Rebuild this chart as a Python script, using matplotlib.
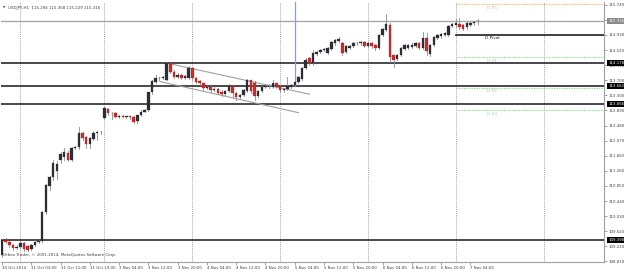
import matplotlib
matplotlib.use('Agg')
import matplotlib.pyplot as plt
import matplotlib.transforms as mtransforms

plt.rcParams['font.family'] = ['DejaVu Sans']

# USDJPY H1 candles, 30 Oct 2014 19:00 .. 7 Nov 2014 06:00 (index = bar number)
opens = [108.98, 109.40, 109.33, 109.25, 109.17, 109.20, 109.31, 109.22, 109.14, 109.26,
         109.33, 109.37, 110.15, 110.85, 111.10, 111.25, 111.55, 111.62, 111.74, 111.56,
         111.87, 111.89, 112.28, 112.17, 111.98, 112.12, 112.29, 112.30, 112.69, 112.92,
         112.80, 112.82, 112.72, 112.73, 112.72, 112.73, 112.70, 112.60, 112.76, 112.86,
         112.90, 113.38, 113.66, 113.76, 113.78, 113.71, 114.16, 113.94, 113.80, 113.85,
         113.78, 113.76, 114.04, 113.78, 113.68, 113.62, 113.49, 113.53, 113.44, 113.48,
         113.40, 113.33, 113.42, 113.56, 113.36, 113.26, 113.31, 113.42, 113.70, 113.62,
         113.29, 113.42, 113.52, 113.54, 113.53, 113.62, 113.54, 113.43, 113.47, 113.53,
         113.57, 113.66, 113.75, 114.03, 114.30, 114.16, 114.42, 114.46, 114.52, 114.44,
         114.55, 114.70, 114.76, 114.72, 114.48, 114.58, 114.63, 114.70, 114.70, 114.74,
         114.63, 114.72, 114.66, 114.57, 114.93, 115.06, 115.20, 114.38, 114.27, 114.39,
         114.55, 114.58, 114.60, 114.63, 114.70, 114.57, 114.84, 114.42, 114.66, 114.84,
         114.89, 114.93, 114.94, 115.17, 115.19, 115.23, 115.19, 115.14, 115.20, 115.24,
         115.294]
highs = [109.42, 109.45, 109.36, 109.27, 109.24, 109.36, 109.34, 109.25, 109.28, 109.40,
         109.40, 110.18, 110.90, 111.13, 111.55, 111.52, 111.78, 111.88, 111.80, 111.91,
         111.92, 112.45, 112.32, 112.20, 112.17, 112.33, 112.34, 112.33, 112.98, 112.96,
         112.84, 112.85, 112.76, 112.76, 112.75, 112.75, 112.74, 112.78, 112.89, 112.92,
         113.40, 113.72, 113.85, 113.80, 113.83, 114.21, 114.21, 113.97, 113.90, 113.88,
         113.86, 114.08, 114.07, 113.80, 113.71, 113.64, 113.56, 113.56, 113.52, 113.50,
         113.43, 113.45, 113.60, 113.59, 113.38, 113.34, 113.47, 113.73, 113.72, 113.68,
         113.45, 113.56, 113.57, 113.60, 113.70, 113.64, 113.57, 113.50, 113.79, 113.61,
         113.69, 113.82, 114.06, 114.30, 114.33, 114.52, 114.51, 114.56, 114.57, 114.60,
         114.78, 114.83, 114.87, 114.75, 114.66, 114.66, 114.73, 114.75, 114.77, 114.77,
         114.74, 114.75, 114.68, 114.96, 115.11, 115.50, 115.25, 114.40, 114.42, 114.60,
         114.68, 114.69, 114.70, 114.73, 114.74, 115.02, 114.98, 114.68, 114.90, 114.96,
         114.99, 115.01, 115.20, 115.26, 115.35, 115.38, 115.22, 115.27, 115.29, 115.32,
         115.358]
lows = [108.92, 109.30, 109.21, 109.12, 109.14, 109.17, 109.10, 109.10, 109.12, 109.22,
        109.30, 109.34, 110.10, 110.74, 111.01, 111.05, 111.48, 111.55, 111.52, 111.52,
        111.84, 111.86, 112.10, 111.88, 111.88, 112.08, 112.10, 112.26, 112.66, 112.78,
        112.66, 112.70, 112.69, 112.70, 112.69, 112.66, 112.56, 112.55, 112.73, 112.84,
        112.87, 113.33, 113.62, 113.72, 113.74, 113.70, 113.90, 113.77, 113.76, 113.74,
        113.75, 113.73, 113.72, 113.62, 113.58, 113.45, 113.46, 113.40, 113.42, 113.33,
        113.28, 113.30, 113.39, 113.26, 113.17, 113.23, 113.28, 113.40, 113.37, 113.17,
        113.25, 113.39, 113.49, 113.51, 113.50, 113.49, 113.39, 113.40, 113.44, 113.50,
        113.54, 113.63, 113.72, 114.00, 114.12, 114.13, 114.39, 114.43, 114.49, 114.41,
        114.52, 114.66, 114.73, 114.39, 114.44, 114.55, 114.60, 114.67, 114.66, 114.60,
        114.60, 114.59, 114.53, 114.55, 114.91, 115.03, 114.21, 114.07, 114.24, 114.36,
        114.52, 114.55, 114.57, 114.60, 114.56, 114.54, 114.39, 114.37, 114.63, 114.81,
        114.86, 114.90, 114.91, 115.14, 115.15, 115.10, 115.07, 115.10, 115.17, 115.21,
        115.229]
closes = [109.38, 109.33, 109.24, 109.16, 109.20, 109.31, 109.15, 109.13, 109.26, 109.33,
          109.37, 110.15, 110.87, 111.10, 111.48, 111.45, 111.70, 111.76, 111.56, 111.87,
          111.90, 112.28, 112.14, 111.98, 112.14, 112.29, 112.30, 112.31, 112.96, 112.81,
          112.79, 112.72, 112.73, 112.72, 112.73, 112.70, 112.59, 112.76, 112.86, 112.90,
          113.38, 113.68, 113.76, 113.78, 113.80, 114.17, 113.94, 113.80, 113.85, 113.78,
          113.83, 114.04, 113.76, 113.67, 113.62, 113.49, 113.53, 113.44, 113.48, 113.36,
          113.33, 113.42, 113.56, 113.35, 113.26, 113.31, 113.44, 113.70, 113.42, 113.27,
          113.42, 113.52, 113.54, 113.56, 113.62, 113.52, 113.43, 113.47, 113.55, 113.58,
          113.66, 113.79, 114.03, 114.25, 114.16, 114.43, 114.48, 114.53, 114.54, 114.57,
          114.75, 114.80, 114.82, 114.45, 114.63, 114.63, 114.70, 114.72, 114.74, 114.63,
          114.70, 114.62, 114.57, 114.93, 115.08, 115.23, 114.34, 114.26, 114.39, 114.57,
          114.65, 114.66, 114.67, 114.70, 114.59, 114.84, 114.50, 114.66, 114.87, 114.93,
          114.96, 114.98, 115.17, 115.23, 115.24, 115.14, 115.10, 115.24, 115.26, 115.29,
          115.316]

# horizontal support / resistance levels
levels = [114.176, 113.562, 113.066, 109.390]
bid_price = 115.316

# daily pivots for 7 Nov (start bar 124)
pivot_start = 124
pivot_names = ['D R1', 'D Pivot', 'D S1', 'D S2', 'D S3']
pivot_values = [115.76, 114.93, 114.33, 113.50, 112.90]
pivot_colors = ['#ffb866', '#202020', '#8ee08e', '#8ee08e', '#8ee08e']

# channel trend lines (bar, price)
upper_line = [(46.4, 114.14), (84.0, 113.33)]
lower_line = [(43.2, 113.67), (81.0, 112.83)]
vline_bar = 80

day_starts = [5, 28, 52, 76, 100, 124, 148]
xtick_pos = list(range(0, 129, 8))
xtick_labels = ['30 Oct 2014', '31 Oct 03:00', '31 Oct 11:00', '31 Oct 19:00',
                '3 Nov 04:00', '3 Nov 12:00', '3 Nov 20:00', '4 Nov 04:00',
                '4 Nov 12:00', '4 Nov 20:00', '5 Nov 04:00', '5 Nov 12:00',
                '5 Nov 20:00', '6 Nov 04:00', '6 Nov 12:00', '6 Nov 20:00',
                '7 Nov 04:00']
ytick_vals = [115.74, 115.33, 114.93, 114.52, 114.11, 113.70, 113.30, 112.89, 112.48,
              112.07, 111.66, 111.26, 110.85, 110.44, 110.03, 109.62, 109.22, 108.81]

fig = plt.figure(figsize=(6.24, 2.72), dpi=100)
ax = fig.add_axes([1 / 624, 10 / 272, 603 / 624, 260 / 272])
ax.set_xlim(-0.27, 164.5)
ax.set_ylim(108.794, 115.821)

# grid: dotted vertical lines at day starts
for d in day_starts:
    ax.axvline(d, color='#a8a8a8', lw=0.7, ls=(0, (1, 1)), zorder=0)

# levels
ax.axhline(bid_price, color='#a8a8a8', lw=1.0, zorder=1)
for lv in levels:
    ax.axhline(lv, color='#2a2a2a', lw=1.2, zorder=1)

# pivots
for name, val, col in zip(pivot_names, pivot_values, pivot_colors):
    if name == 'D Pivot':
        ax.plot([pivot_start, 165], [val, val], color=col, lw=1.2, zorder=1)
    else:
        ax.plot([pivot_start, 165], [val, val], color=col, lw=0.9, ls=(0, (1, 1)), zorder=1)
    ax.text(134, val - 0.04, name, color=col, fontsize=3.1, ha='center', va='top')

# trend lines and vertical marker
for ln in (upper_line, lower_line):
    ax.plot([ln[0][0], ln[1][0]], [ln[0][1], ln[1][1]], color='#a0a0a0', lw=0.8, zorder=1)
ax.plot([vline_bar, vline_bar], [113.56, 115.9], color='#7f9cf7', lw=0.9, zorder=1)

# candles
for i in range(len(opens)):
    o, h, l, c = opens[i], highs[i], lows[i], closes[i]
    ax.plot([i, i], [l, h], color='#8c8c8c', lw=0.6, zorder=2)
    col = '#2b2e36' if c >= o else '#d42a2a'
    ax.bar(i, max(abs(c - o), 0.012), bottom=min(o, c), width=0.68,
           color=col, edgecolor='#2b2e36' if c >= o else '#8a1a1a', linewidth=0.2, zorder=3)

# axes styling
for s in ['top', 'left']:
    ax.spines[s].set_visible(False)
ax.spines['right'].set_color('#a0a0a0')
ax.spines['bottom'].set_color('#a0a0a0')
ax.yaxis.tick_right()
ax.set_yticks(ytick_vals)
ax.set_yticklabels(['%.3f' % v for v in ytick_vals])
ax.tick_params(axis='y', length=2, width=0.5, color='#808080', labelsize=2.8,
               labelcolor='#404040', pad=1.2)
ax.set_xticks(xtick_pos)
ax.set_xticklabels(xtick_labels, ha='left')
ax.tick_params(axis='x', length=2, width=0.5, color='#808080', labelsize=2.8,
               labelcolor='#404040', pad=0.8)

# highlighted price labels on the right
trans = mtransforms.blended_transform_factory(ax.transAxes, ax.transData)
ax.text(1.007, bid_price, '%.3f' % bid_price, transform=trans, fontsize=2.8, color='white',
        va='center', ha='left', zorder=5, clip_on=False,
        bbox=dict(facecolor='#8a8a8a', edgecolor='none', pad=0.7))
for lv in levels:
    ax.text(1.007, lv, '%.3f' % lv, transform=trans, fontsize=2.8, color='white',
            va='center', ha='left', zorder=5, clip_on=False,
            bbox=dict(facecolor='black', edgecolor='none', pad=0.7))

# header and footer texts
ax.text(0.004, 0.985, '\u25bc', transform=ax.transAxes, fontsize=2.2, color='#505050',
        va='top', ha='left')
ax.text(0.012, 0.985, 'USDJPY,H1  115.294 115.358 115.229 115.316', transform=ax.transAxes,
        fontsize=2.9, color='#404040', va='top', ha='left')
ax.text(0.004, 0.018, 'Orbex Trader, \u00a9 2001-2014, MetaQuotes Software Corp.',
        transform=ax.transAxes, fontsize=2.9, color='#404040', va='bottom', ha='left')

fig.savefig('out.png', dpi=100, facecolor='white')
